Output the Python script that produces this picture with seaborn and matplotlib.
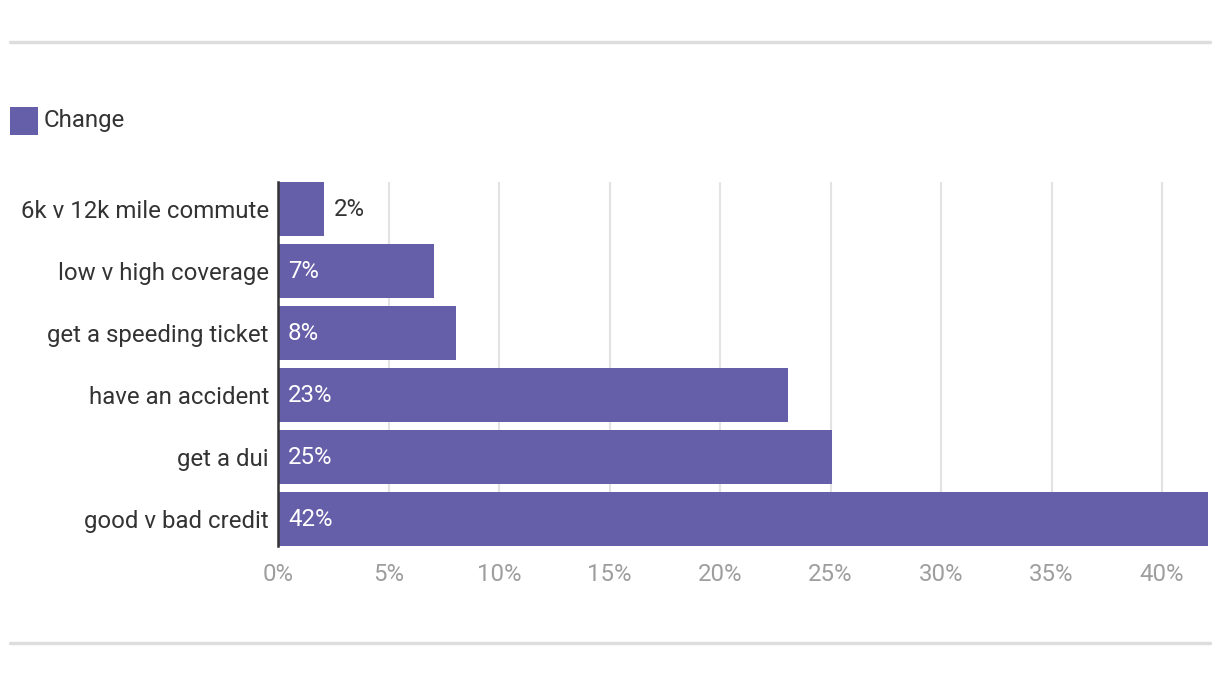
import matplotlib
matplotlib.use("Agg")
import matplotlib.pyplot as plt
import seaborn as sns
import pandas as pd
from matplotlib.patches import Rectangle
from matplotlib.lines import Line2D

categories = ["6k v 12k mile commute", "low v high coverage", "get a speeding ticket",
              "have an accident", "get a dui", "good v bad credit"]
values = [2.08, 7.05, 8.05, 23.08, 25.07, 42.08]
tick_values = [0, 5, 10, 15, 20, 25, 30, 35, 40]
tick_labels = ["0%", "5%", "10%", "15%", "20%", "25%", "30%", "35%", "40%"]
series_name = "Change"

BAR = "#655ea8"
FS = 17.3
sns.set_theme(style="white")
plt.rcParams["font.family"] = ["Roboto", "DejaVu Sans"]

W, H = 1220, 678
fig = plt.figure(figsize=(W / 100, H / 100), dpi=100)
ax = fig.add_axes([278 / W, 1 - 546 / H, (1208 - 278) / W, (546 - 182) / H])

df = pd.DataFrame({"cat": categories, "val": values})
sns.barplot(data=df, x="val", y="cat", orient="h", color=BAR, saturation=1,
            width=54 / 62, ax=ax, zorder=3, linewidth=0)

ax.set_xlim(0, 42.08)
half = (54 / 62) / 2
ax.set_ylim(len(categories) - 1 + half, -half)
ax.set_xticks(tick_values)
ax.set_xticklabels(tick_labels, color="#9e9e9e", fontsize=FS)
ax.tick_params(axis="x", length=0, pad=12)
ax.tick_params(axis="y", length=0, pad=6.5, labelsize=FS, labelcolor="#333333")
ax.set_xlabel("")
ax.set_ylabel("")
for x in tick_values[1:]:
    ax.axvline(x, color="#e3e3e3", lw=1.5, zorder=1)
for s in ["top", "right", "bottom"]:
    ax.spines[s].set_visible(False)
ax.spines["left"].set_color("#333333")
ax.spines["left"].set_linewidth(1.8)
ax.spines["left"].set_zorder(5)

px = 42.08 / 930.0
for i, v in enumerate(values):
    label = f"{round(v)}%"
    if v > 5:
        ax.text(10 * px, i, label, color="white", va="center", ha="left", fontsize=FS, zorder=6)
    else:
        ax.text(v + 10 * px, i, label, color="#333333", va="center", ha="left", fontsize=FS, zorder=6)

# legend
fig.patches.append(Rectangle((10 / W, 1 - 135 / H), 28 / W, 28 / H, transform=fig.transFigure,
                             facecolor=BAR, edgecolor="none"))
fig.text(44 / W, 1 - 121 / H, series_name, color="#333333", fontsize=FS, va="center", ha="left")

# horizontal rules
for yy in (42, 643):
    fig.lines.append(Line2D([10 / W, 1210 / W], [1 - yy / H, 1 - yy / H], transform=fig.transFigure,
                            color="#dddddd", lw=2.5))

fig.savefig("out.png", dpi=100, facecolor="white")
